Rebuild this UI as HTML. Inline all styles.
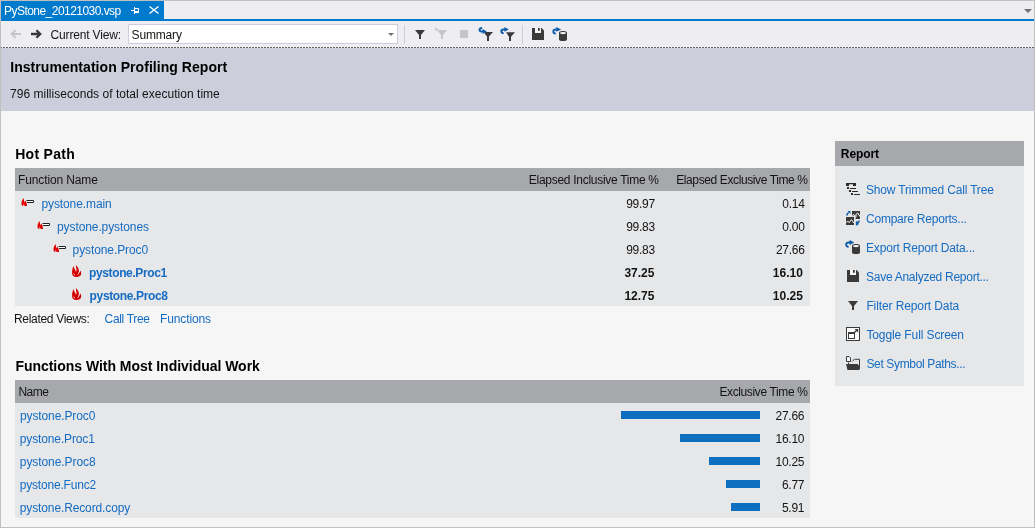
<!DOCTYPE html>
<html><head><meta charset="utf-8">
<style>
*{margin:0;padding:0;box-sizing:border-box}
html,body{width:1035px;height:528px;overflow:hidden;background:#f6f6f6;font-family:"Liberation Sans",Arial,sans-serif;font-size:12px;color:#141414}
.a{position:absolute}
.t{position:absolute;white-space:nowrap;line-height:12px}
#frame{position:absolute;left:0;top:0;width:1035px;height:528px;border:1px solid #c0c0c0;pointer-events:none}
#tabs{left:1px;top:1px;width:1033px;height:20px;background:#eeeef2}
#tab{left:1px;top:1px;width:163px;height:18px;background:#007acc}
#tabline{left:1px;top:19px;width:1033px;height:2px;background:#007acc}
#tb{left:1px;top:21px;width:1033px;height:26px;background:#eeeef2}
#dash{left:0;top:47px;width:1035px;height:1px;background:repeating-linear-gradient(90deg,#626262 0 2px,transparent 2px 3px);background-position:0 0}
#hdr{left:1px;top:48px;width:1033px;height:63px;background:#cccedb}
#combo{left:128px;top:24px;width:270px;height:20px;background:#fff;border:1px solid #cccedb}
.sep{width:1px;height:19px;top:25px;background:#ccd}
.tbl{background:#e6e7e9}
.th{background:#a7a8ac}
.bar{height:8px;background:#0e6fc1}
.lnk{color:#156cc2}
.b{font-weight:bold}
.w{color:#fff}
.h{color:#000}
#ico{position:absolute;left:0;top:0}
</style></head><body>
<div class="a" id="tabs"></div>
<div class="a" id="tab"></div>
<div class="a" id="tabline"></div>
<div class="a" id="tb"></div>
<div class="a" id="combo"></div>
<div class="a sep" style="left:404px"></div>
<div class="a sep" style="left:522px"></div>
<div class="a" id="dash"></div>
<div class="a" id="hdr"></div>

<div class="a th" style="left:15px;top:168px;width:795px;height:23px"></div>
<div class="a tbl" style="left:15px;top:191px;width:795px;height:115px"></div>
<div class="a th" style="left:15px;top:380px;width:795px;height:23px"></div>
<div class="a tbl" style="left:15px;top:403px;width:795px;height:115px"></div>
<div class="a bar" style="left:621px;top:411px;width:139px"></div>
<div class="a bar" style="left:680px;top:434px;width:80px"></div>
<div class="a bar" style="left:709px;top:457px;width:51px"></div>
<div class="a bar" style="left:726px;top:480px;width:34px"></div>
<div class="a bar" style="left:731px;top:503px;width:29px"></div>
<div class="a th" style="left:835px;top:141px;width:189px;height:25px"></div>
<div class="a tbl" style="left:835px;top:166px;width:189px;height:220px"></div>

<svg id="ico" width="1035" height="528" viewBox="0 0 1035 528">
<!-- tab pin -->
<path d="M131 10.5H134M134.5 7V14M134.5 8.5H138.5V12" stroke="#fff" stroke-width="1" fill="none"/>
<rect x="134" y="11" width="5" height="2" fill="#fff"/>
<!-- tab close -->
<path d="M149.5 6.5L158.5 13.5M158.5 6.5L149.5 13.5" stroke="#fff" stroke-width="1.4" fill="none"/>
<!-- tabwell dropdown -->
<path d="M1024 9H1032L1028 13Z" fill="#717171"/>
<!-- back / forward -->
<path d="M21 34H12M15.5 30.3L11.6 34L15.5 37.7" stroke="#c6c6c6" stroke-width="2" fill="none"/>
<path d="M31 34H40M36.4 30.3L40.2 34L36.4 37.7" stroke="#383838" stroke-width="2.3" fill="none"/>
<!-- combo arrow -->
<path d="M388 33H394L391 36Z" fill="#717171"/>
<!-- filter dark -->
<path d="M415 30H425L421 35V39H419V35Z" fill="#3a3a3a"/>
<!-- filter grey w/ cursor -->
<path d="M437 30H447L443 35V39H441V35Z" fill="#c6c6c6"/>
<path d="M435 27.2V30.8L438.5 29.5Z" fill="#c6c6c6"/>
<!-- grey square -->
<rect x="460" y="30" width="8" height="8" fill="#c6c6c6"/>
<!-- filter + arrow (4) -->
<path d="M485 32H493L489 36.6V41H487V36.6L484.6 33.6Z" fill="#3a3a3a"/>
<path d="M482.2 28C478.6 28.3 478.8 31.6 481.6 31.6H484" stroke="#0e5ca8" stroke-width="2" fill="none"/>
<path d="M482.6 29.1L486.8 31.6L482.6 34.1Z" fill="#0e5ca8"/>
<!-- filter + arrow (5) -->
<path d="M506 32.3H515L511 36.8V41H509V36.8Z" fill="#3a3a3a"/>
<path d="M503.6 33.2C500.6 33 500.6 29.6 503.6 29.5H505.5" stroke="#0e5ca8" stroke-width="2" fill="none"/>
<path d="M504.4 27.1L508.8 29.4L504.4 31.8Z" fill="#0e5ca8"/>
<!-- save -->
<path d="M532 28H541.6L544 30.4V40H532Z" fill="#3a3a3a"/>
<rect x="535" y="28" width="6" height="5" fill="#f6f6f6"/>
<rect x="538" y="28" width="1.8" height="2.8" fill="#3a3a3a"/>
<!-- db + arrow -->
<path d="M559 32.6C559 30.6 567 30.6 567 32.6V39.4C567 41.4 559 41.4 559 39.4Z" fill="#3a3a3a"/>
<ellipse cx="563" cy="33.1" rx="3.1" ry="1.1" fill="#f4f4f4"/>
<path d="M555.8 33.6C552.4 33.4 552.4 29.5 556 29.5H557.5" stroke="#0e5ca8" stroke-width="1.8" fill="none"/>
<path d="M556.2 27L561.2 29.4L556.2 31.8Z" fill="#0e5ca8"/>

<!-- hot path small icons -->
<g id="hp1">
<path d="M23.3 198C22.3 199.8 21.4 201.8 21.5 203.8C21.6 205.2 22.2 206 23.3 206L23.7 203.4L24.6 206H27C27.1 204.5 26.5 202 25.3 200.5C25.1 201.4 24.6 202 24 202.2C24.2 200.8 23.9 199.3 23.3 198Z" fill="#e00000"/>
<path d="M26.5 200.5H33.5V202.5H27" stroke="#222" stroke-width="1" fill="#fff"/>
</g>
<g transform="translate(16 23)">
<path d="M23.3 198C22.3 199.8 21.4 201.8 21.5 203.8C21.6 205.2 22.2 206 23.3 206L23.7 203.4L24.6 206H27C27.1 204.5 26.5 202 25.3 200.5C25.1 201.4 24.6 202 24 202.2C24.2 200.8 23.9 199.3 23.3 198Z" fill="#e00000"/>
<path d="M26.5 200.5H33.5V202.5H27" stroke="#222" stroke-width="1" fill="#fff"/>
</g>
<g transform="translate(32 46)">
<path d="M23.3 198C22.3 199.8 21.4 201.8 21.5 203.8C21.6 205.2 22.2 206 23.3 206L23.7 203.4L24.6 206H27C27.1 204.5 26.5 202 25.3 200.5C25.1 201.4 24.6 202 24 202.2C24.2 200.8 23.9 199.3 23.3 198Z" fill="#e00000"/>
<path d="M26.5 200.5H33.5V202.5H27" stroke="#222" stroke-width="1" fill="#fff"/>
</g>
<!-- big flames -->
<g transform="translate(72 265)">
<path d="M1.6 1.1C0.4 3.2 0 6 0.1 8.5C0.2 10.6 1.6 12 4.4 12C7.4 12 9.2 10.8 9.2 8.6C9.2 7.4 8.9 6.3 8.4 5.5C8 6.5 7.5 7.1 6.9 7.5C7.2 5 6.4 2 3.8 0C4.3 2.2 4 4.3 3.2 5.6C2.6 4.3 2 2.7 1.6 1.1Z" fill="#d40000"/>
<path d="M3.2 1.8C3.9 3 4.2 4.5 4 6.3M7.4 6.6C7 7.8 6.5 8.8 5.8 9.7M1.7 8.7L2.7 10.2" stroke="#fff" stroke-width="0.9" fill="none"/>
</g>
<g transform="translate(72 288)">
<path d="M1.6 1.1C0.4 3.2 0 6 0.1 8.5C0.2 10.6 1.6 12 4.4 12C7.4 12 9.2 10.8 9.2 8.6C9.2 7.4 8.9 6.3 8.4 5.5C8 6.5 7.5 7.1 6.9 7.5C7.2 5 6.4 2 3.8 0C4.3 2.2 4 4.3 3.2 5.6C2.6 4.3 2 2.7 1.6 1.1Z" fill="#d40000"/>
<path d="M3.2 1.8C3.9 3 4.2 4.5 4 6.3M7.4 6.6C7 7.8 6.5 8.8 5.8 9.7M1.7 8.7L2.7 10.2" stroke="#fff" stroke-width="0.9" fill="none"/>
</g>

<!-- report panel icons -->
<!-- show trimmed call tree -->
<path d="M846 183H856V186H853V184.3H849V186H846Z" fill="#2a2a2a"/>
<rect x="847" y="187" width="2" height="2" fill="#2a2a2a"/>
<rect x="850" y="188" width="6" height="1" fill="#2a2a2a"/>
<rect x="849" y="190" width="2" height="2" fill="#2a2a2a"/>
<rect x="852" y="191" width="6" height="1" fill="#2a2a2a"/>
<rect x="851" y="193" width="2" height="2" fill="#2a2a2a"/>
<rect x="854" y="194" width="6" height="1" fill="#2a2a2a"/>
<!-- compare reports -->
<path d="M852 211H860V219H855.2L857.6 214.6L855.4 216.6L854.2 215.2L852 216.6Z" fill="#3a3a3a"/>
<path d="M852.2 215.6L853.8 214.4L855 215.8L857.6 212.8L860 216.6" stroke="#fff" stroke-width="1" fill="none"/>
<rect x="846" y="217" width="8" height="8" fill="#3a3a3a"/>
<path d="M846 222.6L847.6 221L849 222.6L851.4 219.6L854 223" stroke="#fff" stroke-width="1" fill="none"/>
<path d="M846.9 215.6C846.9 214 847.4 213.2 848.6 212.6" stroke="#0e5ca8" stroke-width="1.6" fill="none"/>
<path d="M847.6 211H850.4V213.9Z" fill="#0e5ca8"/>
<path d="M856.6 221.4L857.2 224.2L859.4 220.6" stroke="#0e5ca8" stroke-width="1.6" fill="none"/>
<path d="M855.8 221.2V225H858.6Z" fill="#0e5ca8"/>
<!-- export report data -->
<path d="M852 245.6C852 243.6 860 243.6 860 245.6V252.4C860 254.4 852 254.4 852 252.4Z" fill="#3a3a3a"/>
<ellipse cx="856" cy="246.1" rx="3.1" ry="1.1" fill="#f4f4f4"/>
<path d="M848.6 246.8C845.2 246.6 845.2 242.5 849 242.5H850.8" stroke="#0e5ca8" stroke-width="1.8" fill="none"/>
<path d="M849.6 240L854.2 242.5L849.6 245Z" fill="#0e5ca8"/>
<!-- save analyzed report -->
<path d="M847 270H856.6L859 272.4V282H847Z" fill="#3a3a3a"/>
<rect x="850" y="270" width="6" height="5" fill="#f6f6f6"/>
<rect x="853" y="270" width="1.8" height="2.8" fill="#3a3a3a"/>
<!-- filter report data -->
<path d="M848 301H858L854 306V310H852V306Z" fill="#3a3a3a"/>
<!-- toggle full screen -->
<rect x="846.5" y="327.5" width="13" height="13" fill="#fbfbfb" stroke="#3a3a3a" stroke-width="1"/>
<rect x="848.5" y="332.5" width="6" height="6" fill="#fbfbfb" stroke="#3a3a3a" stroke-width="1"/>
<rect x="848" y="332" width="7" height="2" fill="#3a3a3a"/>
<path d="M853.5 333.5L857.5 329.5" stroke="#3a3a3a" stroke-width="1.2"/>
<path d="M854.6 329H858.2V332.6Z" fill="#3a3a3a"/>
<!-- set symbol paths -->
<path d="M846.5 356.5H849L850.5 358V361.5H846.5Z" fill="#f6f6f6" stroke="#3a3a3a" stroke-width="1"/>
<path d="M852 361.5C853.5 360 854 359.3 855.5 359.3H859.5V369" stroke="#3a3a3a" stroke-width="1" fill="none"/>
<path d="M846 364H857.5L859.5 366V370H847.5Z" fill="#3a3a3a"/>
<rect x="848" y="362.5" width="1" height="2" fill="#3a3a3a"/>
</svg>
<div id="xtab" class="t w" style="left:4.00px;top:5px;letter-spacing:-0.537px">PyStone_20121030.vsp</div>
<div id="xcv" class="t" style="left:50.60px;top:29px;letter-spacing:-0.175px">Current View:</div>
<div id="xsum" class="t" style="left:131.60px;top:29px;letter-spacing:-0.167px">Summary</div>
<div id="xtitle" class="t b h" style="left:10.20px;top:60px;font-size:14px;line-height:14px;letter-spacing:0.052px">Instrumentation Profiling Report</div>
<div id="xsub" class="t" style="left:10.00px;top:88px;letter-spacing:0.026px">796 milliseconds of total execution time</div>
<div id="xhp" class="t b h" style="left:15.20px;top:147px;font-size:14px;line-height:14px;letter-spacing:0.286px">Hot Path</div>
<div id="xfn" class="t" style="left:18.00px;top:174px;letter-spacing:-0.125px">Function Name</div>
<div id="xein" class="t" style="left:528.80px;top:174px;letter-spacing:-0.283px">Elapsed Inclusive Time %</div>
<div id="xeex" class="t" style="left:676.20px;top:174px;letter-spacing:-0.387px">Elapsed Exclusive Time %</div>
<div id="xr1" class="t lnk" style="left:41.40px;top:198px;letter-spacing:-0.091px">pystone.main</div>
<div id="xr2" class="t lnk" style="left:57.00px;top:221px;letter-spacing:-0.093px">pystone.pystones</div>
<div id="xr3" class="t lnk" style="left:72.60px;top:244px;letter-spacing:-0.100px">pystone.Proc0</div>
<div id="xr4" class="t b lnk" style="left:89.00px;top:267px;letter-spacing:-0.375px">pystone.Proc1</div>
<div id="xr5" class="t b lnk" style="left:89.60px;top:290px;letter-spacing:-0.358px">pystone.Proc8</div>
<div id="xrv" class="t" style="left:14.00px;top:313px;letter-spacing:-0.308px">Related Views:</div>
<div id="xct" class="t lnk" style="left:104.60px;top:313px;letter-spacing:-0.325px">Call Tree</div>
<div id="xfns" class="t lnk" style="left:160.00px;top:313px;letter-spacing:-0.125px">Functions</div>
<div id="xfw" class="t b h" style="left:15.40px;top:359px;font-size:14px;line-height:14px;letter-spacing:-0.027px">Functions With Most Individual Work</div>
<div id="xnm" class="t" style="left:18.40px;top:386px;letter-spacing:-0.467px">Name</div>
<div id="xext" class="t" style="left:719.40px;top:386px;letter-spacing:-0.373px">Exclusive Time %</div>
<div id="xf1" class="t lnk" style="left:20.00px;top:410px;letter-spacing:-0.117px">pystone.Proc0</div>
<div id="xf2" class="t lnk" style="left:19.80px;top:433px;letter-spacing:-0.133px">pystone.Proc1</div>
<div id="xf3" class="t lnk" style="left:19.80px;top:456px;letter-spacing:-0.075px">pystone.Proc8</div>
<div id="xf4" class="t lnk" style="left:19.80px;top:479px;letter-spacing:-0.200px">pystone.Func2</div>
<div id="xf5" class="t lnk" style="left:19.80px;top:502px;letter-spacing:-0.128px">pystone.Record.copy</div>
<div id="xrep" class="t b h" style="left:840.80px;top:148px;letter-spacing:-0.080px">Report</div>
<div id="xm1" class="t lnk" style="left:866.00px;top:184px;letter-spacing:-0.167px">Show Trimmed Call Tree</div>
<div id="xm2" class="t lnk" style="left:866.00px;top:213px;letter-spacing:-0.229px">Compare Reports...</div>
<div id="xm3" class="t lnk" style="left:866.00px;top:242px;letter-spacing:-0.180px">Export Report Data...</div>
<div id="xm4" class="t lnk" style="left:866.00px;top:271px;letter-spacing:-0.264px">Save Analyzed Report...</div>
<div id="xm5" class="t lnk" style="left:866.40px;top:300px;letter-spacing:-0.106px">Filter Report Data</div>
<div id="xm6" class="t lnk" style="left:866.40px;top:329px;letter-spacing:-0.106px">Toggle Full Screen</div>
<div id="xm7" class="t lnk" style="left:866.40px;top:358px;letter-spacing:-0.344px">Set Symbol Paths...</div>
<div id="xna0" class="t" style="right:380.20px;top:198px;letter-spacing:-0.270px">99.97</div>
<div id="xnb0" class="t" style="right:230.40px;top:198px;letter-spacing:-0.270px">0.14</div>
<div id="xna1" class="t" style="right:380.20px;top:221px;letter-spacing:-0.270px">99.83</div>
<div id="xnb1" class="t" style="right:230.40px;top:221px;letter-spacing:-0.270px">0.00</div>
<div id="xna2" class="t" style="right:380.20px;top:244px;letter-spacing:-0.270px">99.83</div>
<div id="xnb2" class="t" style="right:230.40px;top:244px;letter-spacing:-0.270px">27.66</div>
<div id="xna3" class="t b" style="right:380.60px;top:267px">37.25</div>
<div id="xnb3" class="t b" style="right:232.20px;top:267px">16.10</div>
<div id="xna4" class="t b" style="right:380.60px;top:290px">12.75</div>
<div id="xnb4" class="t b" style="right:232.20px;top:290px">10.25</div>
<div id="xnc0" class="t" style="right:230.80px;top:410px;letter-spacing:-0.270px">27.66</div>
<div id="xnc1" class="t" style="right:230.80px;top:433px;letter-spacing:-0.270px">16.10</div>
<div id="xnc2" class="t" style="right:230.80px;top:456px;letter-spacing:-0.270px">10.25</div>
<div id="xnc3" class="t" style="right:230.80px;top:479px;letter-spacing:-0.270px">6.77</div>
<div id="xnc4" class="t" style="right:230.80px;top:502px;letter-spacing:-0.270px">5.91</div>
<div id="frame"></div>
</body></html>
